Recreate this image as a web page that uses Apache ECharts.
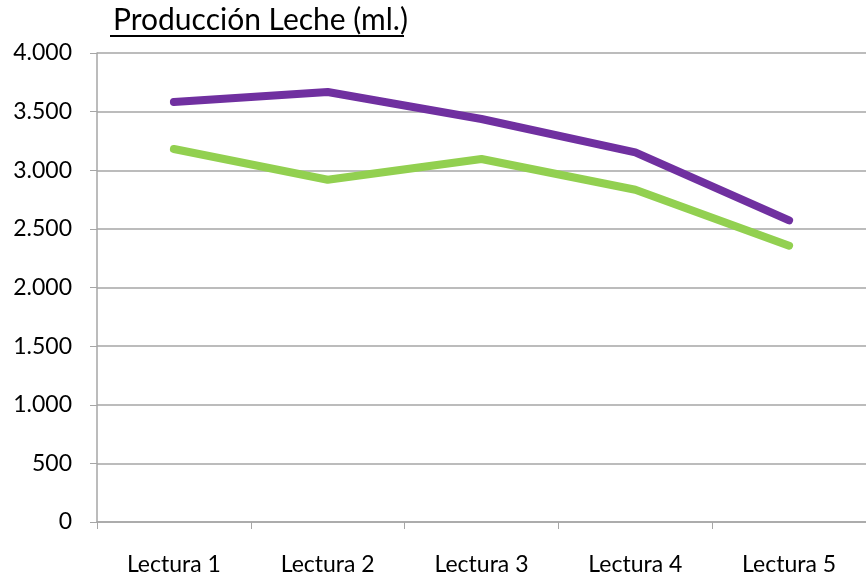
<!DOCTYPE html>
<html>
<head>
<meta charset="utf-8">
<script src="https://cdn.jsdelivr.net/npm/echarts@6/dist/echarts.min.js"></script>
<style>
  html, body { margin: 0; padding: 0; background: #fff; }
  #chart { width: 866px; height: 578px; }
</style>
</head>
<body>
<div id="chart"></div>
<script>
// data
var categories = ['Lectura 1', 'Lectura 2', 'Lectura 3', 'Lectura 4', 'Lectura 5']
var serieMorada = [3582, 3667, 3437, 3152, 2572]
var serieVerde = [3181, 2919, 3096, 2834, 2357]
var titulo = 'Producción Leche (ml.)'

var chart = echarts.init(document.getElementById('chart'))
var fuente = 'Lato, "Open Sans", sans-serif'

var option = {
  animation: false,
  title: {
    text: titulo,
    left: 108,
    top: 0,
    textStyle: {
      fontFamily: fuente,
      fontWeight: 'normal',
      fontSize: 30,
      color: '#000'
    }
  },
  graphic: [
    {
      // subrayado del titulo
      type: 'rect',
      shape: { x: 110, y: 35, width: 294, height: 2 },
      style: { fill: '#000' }
    }
  ],
  grid: {
    left: 97,
    top: 53,
    width: 773,
    height: 469
  },
  xAxis: {
    type: 'category',
    data: categories,
    boundaryGap: true,
    axisLine: { lineStyle: { color: '#a6a6a6', width: 1.5 } },
    axisTick: { show: true, length: 7, lineStyle: { color: '#a6a6a6' } },
    axisLabel: {
      fontFamily: fuente,
      fontSize: 23,
      color: '#000',
      margin: 31
    }
  },
  yAxis: {
    type: 'value',
    min: 0,
    max: 4000,
    interval: 500,
    axisLine: { show: true, lineStyle: { color: '#a6a6a6', width: 1.5 } },
    axisTick: { show: true, length: 7, lineStyle: { color: '#a6a6a6' } },
    splitLine: { show: true, lineStyle: { color: '#a6a6a6', width: 1.5 } },
    axisLabel: {
      fontFamily: fuente,
      fontSize: 23,
      color: '#000',
      margin: 25,
      formatter: function (v) {
        return String(v).replace(/\B(?=(\d{3})+(?!\d))/g, '.')
      }
    }
  },
  series: [
    {
      name: 'Serie 1',
      type: 'line',
      data: serieMorada,
      symbol: 'none',
      lineStyle: { color: '#7030a0', width: 8, cap: 'round', join: 'round' }
    },
    {
      name: 'Serie 2',
      type: 'line',
      data: serieVerde,
      symbol: 'none',
      lineStyle: { color: '#92d050', width: 8, cap: 'round', join: 'round' }
    }
  ]
}
chart.setOption(option)
</script>
</body>
</html>
